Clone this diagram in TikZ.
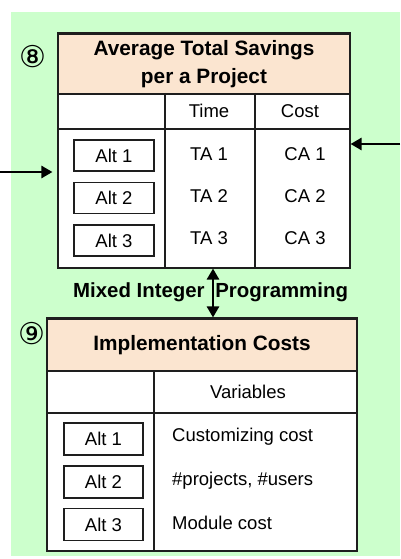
\documentclass[tikz,border=0pt]{standalone}
\usepackage{fontspec}
\setmainfont{Liberation Sans}
\newfontfamily\circfont{DejaVu Sans}
\usetikzlibrary{arrows.meta}
\definecolor{bggreen}{RGB}{204,255,204}
\definecolor{hdrpeach}{RGB}{251,229,208}
\definecolor{linegray}{RGB}{30,30,30}
\tikzset{
  tablebox/.style={draw=linegray, line width=1.1pt, fill=white, inner sep=0pt},
  headbox/.style={draw=linegray, line width=1.1pt, fill=hdrpeach, inner sep=0pt,
    font=\fontsize{20.8}{28}\selectfont\bfseries, align=center},
  altbox/.style={draw=linegray, line width=1.3pt, fill=white, inner sep=0pt,
    minimum width=80pt, minimum height=31pt, font=\fontsize{18.5}{21}\selectfont},
  celltext/.style={inner sep=0pt, font=\fontsize{18.5}{21}\selectfont},
  numtag/.style={inner sep=0pt, font=\circfont\fontsize{30}{30}\selectfont},
  gridline/.style={draw=linegray, line width=1.1pt},
  arr/.style={line width=2.5pt, -{Triangle[length=11pt,width=12pt]}},
  darr/.style={line width=2.5pt, {Triangle[length=11pt,width=12pt]}-{Triangle[length=11pt,width=12pt]}}
}
\begin{document}
\begin{tikzpicture}[x=1pt,y=-1pt]
\useasboundingbox (0,0) rectangle (400,559);
\fill[bggreen] (11,12) rectangle (400,556);

% ---- table 8: average total savings ----
\node[tablebox, minimum width=292pt, minimum height=235pt] (T8) at (204,150.5) {};
\node[headbox, minimum width=292pt, minimum height=60pt] (H8) at (204,64) {Average Total Savings\\per a Project};
\draw[gridline] (58,129) -- (350,129);
\draw[gridline] (165,93) -- (165,268);
\draw[gridline] (255,93) -- (255,268);
\node[celltext] (time8) at (209,111) {Time};
\node[celltext] (cost8) at (300,111) {Cost};
\node[altbox] (a81) at (114,155.5) {Alt 1};
\node[altbox] (a82) at (114,198) {Alt 2};
\node[altbox] (a83) at (114,240.5) {Alt 3};
\node[celltext] (ta1) at (209,154) {TA 1};
\node[celltext] (ta2) at (209,196) {TA 2};
\node[celltext] (ta3) at (209,238) {TA 3};
\node[celltext] (ca1) at (305,154) {CA 1};
\node[celltext] (ca2) at (305,196) {CA 2};
\node[celltext] (ca3) at (305,238) {CA 3};
\node[numtag] (n8) at (33,57) {⑧};

% ---- table 9: implementation costs ----
\node[tablebox, minimum width=310pt, minimum height=233pt] (T9) at (202,434.5) {};
\node[headbox, minimum width=310pt, minimum height=52pt] (H9) at (202,345) {Implementation Costs};
\draw[gridline] (47,413) -- (357,413);
\draw[gridline] (154,370) -- (154,551);
\node[celltext] (var9) at (248,392) {Variables};
\node[altbox, minimum width=79pt, minimum height=32pt] (a91) at (103.5,439) {Alt 1};
\node[altbox, minimum width=79pt, minimum height=32pt] (a92) at (103.5,482) {Alt 2};
\node[altbox, minimum width=79pt, minimum height=32pt] (a93) at (103.5,524.5) {Alt 3};
\node[celltext, anchor=west] (v1) at (172,437) {Customizing cost};
\node[celltext, anchor=west] (v2) at (172,481) {\#projects, \#users};
\node[celltext, anchor=west] (v3) at (172,523) {Module cost};
\node[numtag] (n9) at (31.5,333.5) {⑨};

% ---- connectors ----
\node[celltext, anchor=west, font=\fontsize{20.4}{26}\selectfont\bfseries] (mip) at (73,292) {Mixed Integer\hspace{5pt} Programming};
\coordinate (inL) at (0,172);
\coordinate (inR) at (400,144);
\coordinate (mx) at (213,0);
\draw[arr, shorten >=5pt] (inL) -- (inL -| T8.west);
\draw[arr] (inR) -- (inR -| T8.east);
\draw[darr] (mx |- T8.south) -- (mx |- T9.north);
\end{tikzpicture}
\end{document}
